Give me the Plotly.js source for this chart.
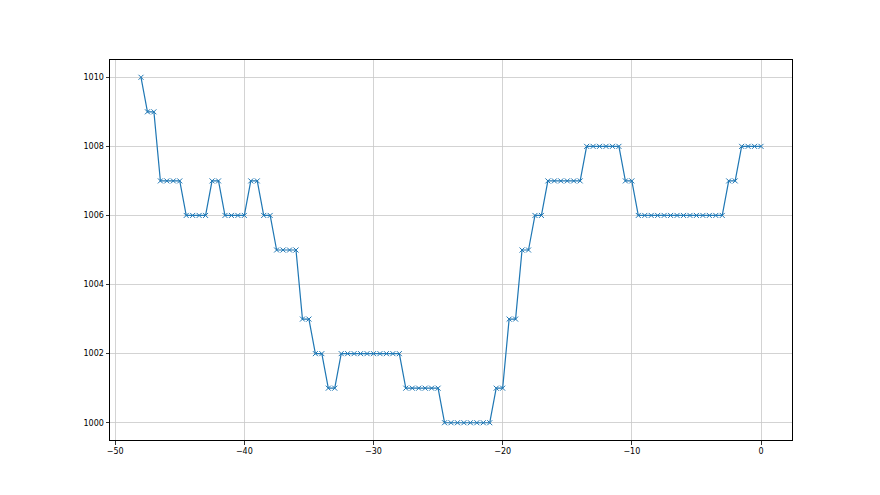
<!DOCTYPE html>
<html>
<head>
<meta charset="utf-8">
<script src="https://cdn.plot.ly/plotly-3.0.1.min.js"></script>
<style>html,body{margin:0;padding:0;background:#fff;}#chart{width:880px;height:495px;}</style>
</head>
<body>
<div id="chart"></div>
<script>
const xValues = [-48,-47.5,-47,-46.5,-46,-45.5,-45,-44.5,-44,-43.5,-43,-42.5,-42,-41.5,-41,-40.5,-40,-39.5,-39,-38.5,-38,-37.5,-37,-36.5,-36,-35.5,-35,-34.5,-34,-33.5,-33,-32.5,-32,-31.5,-31,-30.5,-30,-29.5,-29,-28.5,-28,-27.5,-27,-26.5,-26,-25.5,-25,-24.5,-24,-23.5,-23,-22.5,-22,-21.5,-21,-20.5,-20,-19.5,-19,-18.5,-18,-17.5,-17,-16.5,-16,-15.5,-15,-14.5,-14,-13.5,-13,-12.5,-12,-11.5,-11,-10.5,-10,-9.5,-9,-8.5,-8,-7.5,-7,-6.5,-6,-5.5,-5,-4.5,-4,-3.5,-3,-2.5,-2,-1.5,-1,-0.5,0];
const yValues = [1010,1009,1009,1007,1007,1007,1007,1006,1006,1006,1006,1007,1007,1006,1006,1006,1006,1007,1007,1006,1006,1005,1005,1005,1005,1003,1003,1002,1002,1001,1001,1002,1002,1002,1002,1002,1002,1002,1002,1002,1002,1001,1001,1001,1001,1001,1001,1000,1000,1000,1000,1000,1000,1000,1000,1001,1001,1003,1003,1005,1005,1006,1006,1007,1007,1007,1007,1007,1007,1008,1008,1008,1008,1008,1008,1007,1007,1006,1006,1006,1006,1006,1006,1006,1006,1006,1006,1006,1006,1006,1006,1007,1007,1008,1008,1008,1008];
const xTicks = [-50,-40,-30,-20,-10,0];
const xTickLabels = ['\u221250','\u221240','\u221230','\u221220','\u221210','0'];
const yTicks = [1000,1002,1004,1006,1008,1010];

const trace = {
  x: xValues, y: yValues, type: 'scatter', mode: 'lines+markers',
  line: {color: '#1f77b4', width: 1.2},
  marker: {symbol: 'x-thin', size: 5, color: '#1f77b4', line: {width: 1, color: '#1f77b4'}},
  hoverinfo: 'skip'
};
const axisCommon = {
  showline: true, mirror: true, linecolor: '#000', linewidth: 1,
  ticks: 'outside', ticklen: 3.5, tickwidth: 0.8, tickcolor: '#000',
  showgrid: true, gridcolor: '#c8c8c8', gridwidth: 0.8, zeroline: false,
  tickfont: {family: 'DejaVu Sans', size: 8, color: '#000'}
};
const layout = {
  width: 880, height: 495,
  margin: {l: 110, r: 88, t: 60, b: 55, pad: 0},
  paper_bgcolor: '#fff', plot_bgcolor: '#fff',
  showlegend: false,
  xaxis: Object.assign({}, axisCommon, {range: [-50.4, 2.4], tickmode: 'array', tickvals: xTicks, ticktext: xTickLabels}),
  yaxis: Object.assign({}, axisCommon, {range: [999.5, 1010.5], tickmode: 'array', tickvals: yTicks, ticktext: yTicks.map(String)})
};
Plotly.newPlot('chart', [trace], layout, {displayModeBar: false, staticPlot: true});
</script>
</body>
</html>
